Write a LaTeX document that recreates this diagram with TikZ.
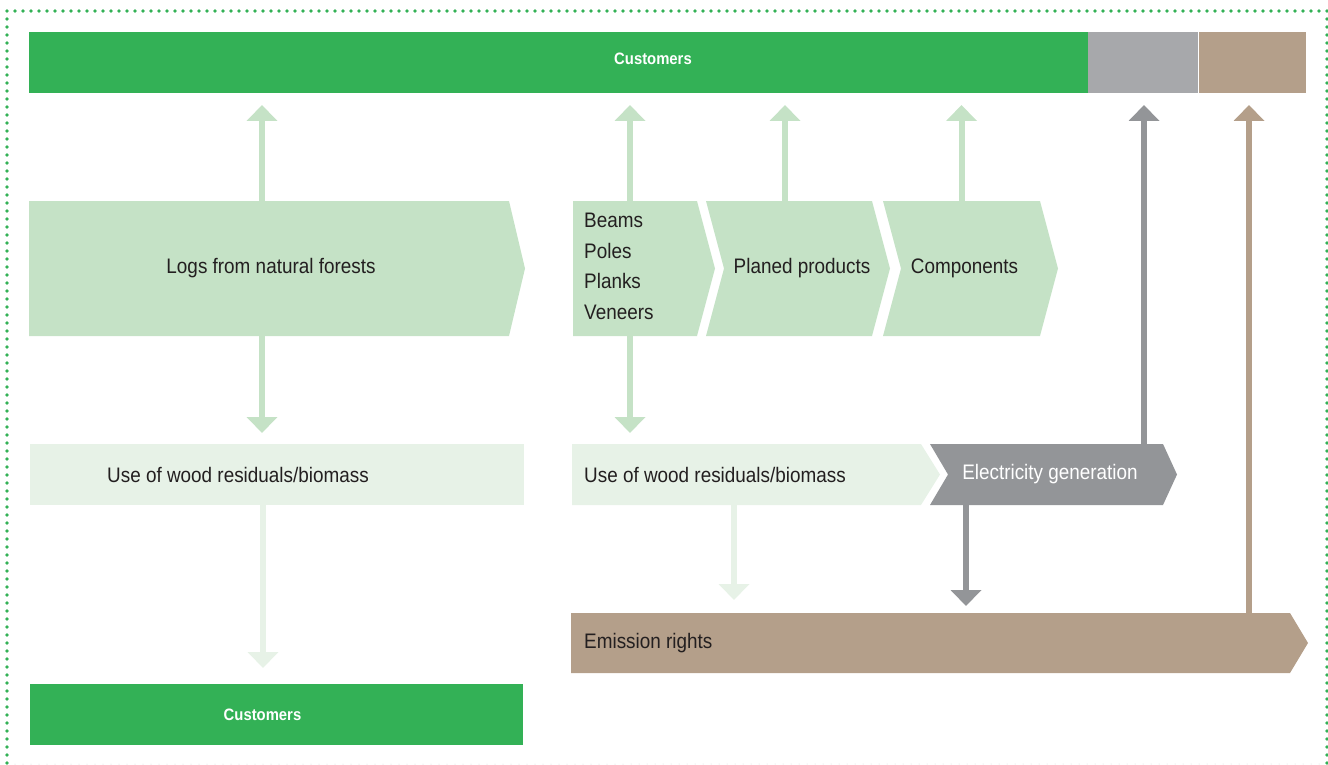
\documentclass[tikz,border=0pt]{standalone}
\usepackage{fontspec}
\setmainfont{Liberation Sans}[FakeStretch=0.9]
\usetikzlibrary{arrows.meta}

\definecolor{custgreen}{RGB}{51,177,86}
\definecolor{woodgreen}{RGB}{197,226,198}
\definecolor{palegreen}{RGB}{231,242,231}
\definecolor{powergray}{RGB}{147,149,152}
\definecolor{bargray}{RGB}{167,168,171}
\definecolor{rightstan}{RGB}{180,159,138}
\definecolor{darktext}{RGB}{35,31,32}

\begin{document}
\begin{tikzpicture}[x=1pt, y=-1pt,
	box/.style={inner sep=0pt, outer sep=0pt, anchor=north west},
	txt/.style={font=\fontsize{21}{30.5}\selectfont, text=darktext, inner sep=0pt},
	head/.style={font=\bfseries\fontsize{16.5}{20}\selectfont, text=white, inner sep=0pt},
	flow/.style={line width=6pt, -{Triangle[width=30pt,length=16pt]}}]

	\useasboundingbox (0,0) rectangle (1328,765);

	% dotted frame
	\draw[custgreen, line width=3.6pt, line cap=round, dash pattern=on 0pt off 8pt]
	(7,763) -- (7,11) -- (1327,11) -- (1327,763);
	\draw[black!15, line width=1pt, line cap=round, dash pattern=on 0pt off 8pt]
	(15,764) -- (1320,764);

	% customers on top
	\node[box, fill=custgreen, minimum width=1059pt, minimum height=61pt] (topcust) at (29,32) {};
	\node[box, fill=bargray, minimum width=110pt, minimum height=61pt] (topgray) at (1088,32) {};
	\node[box, fill=rightstan, minimum width=107pt, minimum height=61pt] (toptan) at (1199,32) {};
	\node[head] (topcust text) at (653,59) {Customers};

	% first row
	\node[box, minimum width=480pt, minimum height=135pt] (logs) at (29,201) {};
	\fill[woodgreen] (logs.north west) -- (logs.north east) -- ([xshift=16pt]logs.east)
	-- (logs.south east) -- (logs.south west) -- cycle;
	\node[txt] (logs text) at ([xshift=2pt]logs.center) {Logs from natural forests};

	\node[box, minimum width=124pt, minimum height=135pt] (beams) at (573,201) {};
	\fill[woodgreen] (beams.north west) -- (beams.north east) -- ([xshift=18pt]beams.east)
	-- (beams.south east) -- (beams.south west) -- cycle;
	\node[txt, anchor=west, align=left] (beams text) at ([xshift=11pt,yshift=2pt]beams.west)
	{Beams\\Poles\\Planks\\Veneers};

	\node[box, minimum width=166pt, minimum height=135pt] (planed) at (706,201) {};
	\fill[woodgreen] (planed.north west) -- (planed.north east) -- ([xshift=18pt]planed.east)
	-- (planed.south east) -- (planed.south west) -- ([xshift=18pt]planed.west) -- cycle;
	\node[txt] (planed text) at ([xshift=13pt]planed.center) {Planed products};

	\node[box, minimum width=157pt, minimum height=135pt] (comp) at (883,201) {};
	\fill[woodgreen] (comp.north west) -- (comp.north east) -- ([xshift=18pt]comp.east)
	-- (comp.south east) -- (comp.south west) -- ([xshift=18pt]comp.west) -- cycle;
	\node[txt] (comp text) at ([xshift=3pt]comp.center) {Components};

	% second row
	\node[box, fill=palegreen, minimum width=494pt, minimum height=61pt] (useA) at (30,444) {};
	\node[txt, anchor=west] (useA text) at ([xshift=77pt]useA.west) {Use of wood residuals/biomass};

	\node[box, minimum width=349pt, minimum height=61pt] (useB) at (572,444) {};
	\fill[palegreen] (useB.north west) -- (useB.north east) -- ([xshift=19pt]useB.east)
	-- (useB.south east) -- (useB.south west) -- cycle;
	\node[txt, anchor=west] (useB text) at ([xshift=12pt]useB.west) {Use of wood residuals/biomass};

	\node[box, minimum width=233pt, minimum height=61pt] (power) at (930,444) {};
	\fill[powergray] (power.north west) -- (power.north east) -- ([xshift=14pt]power.east)
	-- (power.south east) -- (power.south west) -- ([xshift=18pt]power.west) -- cycle;
	\node[txt, text=white] (power text) at ([xshift=3.5pt]power.center) {Electricity generation};

	% third row
	\node[box, minimum width=719pt, minimum height=60pt] (rights) at (571,613) {};
	\fill[rightstan] (rights.north west) -- (rights.north east) -- ([xshift=18pt]rights.east)
	-- (rights.south east) -- (rights.south west) -- cycle;
	\node[txt, anchor=west] (rights text) at ([xshift=13pt]rights.west) {Emission rights};

	\node[box, fill=custgreen, minimum width=493pt, minimum height=61pt] (custB) at (30,684) {};
	\node[head] (custB text) at ([xshift=-14pt]custB.center) {Customers};

	% arrows
	\coordinate (logs up) at ([xshift=-7pt]logs.north);
	\coordinate (logs down) at ([xshift=-7pt]logs.south);
	\coordinate (beams up) at ([xshift=-5pt]beams.north);
	\coordinate (beams down) at ([xshift=-5pt]beams.south);
	\coordinate (planed up) at ([xshift=-4pt]planed.north);
	\coordinate (comp up) at (comp.north);
	\coordinate (power up) at ([xshift=97.5pt]power.north);
	\coordinate (power down) at ([xshift=-80.5pt]power.south);
	\coordinate (rights up) at ([xshift=318.5pt]rights.north);
	\coordinate (useA down) at ([xshift=-14pt]useA.south);
	\coordinate (useB down) at ([xshift=-12.5pt]useB.south);

	\draw[flow, woodgreen, shorten >=12pt] (logs up) -- (logs up |- topcust.south);
	\draw[flow, woodgreen, shorten >=12pt] (beams up) -- (beams up |- topcust.south);
	\draw[flow, woodgreen, shorten >=12pt] (planed up) -- (planed up |- topcust.south);
	\draw[flow, woodgreen, shorten >=12pt] (comp up) -- (comp up |- topcust.south);
	\draw[flow, powergray, shorten >=12pt] (power up) -- (power up |- topgray.south);
	\draw[flow, rightstan, shorten >=12pt] (rights up) -- (rights up |- toptan.south);
	\draw[flow, woodgreen, shorten >=11pt] (logs down) -- (logs down |- useA.north);
	\draw[flow, woodgreen, shorten >=11pt] (beams down) -- (beams down |- useB.north);
	\draw[flow, palegreen, shorten >=16pt] (useA down) -- (useA down |- custB.north);
	\draw[flow, palegreen, shorten >=13pt] (useB down) -- (useB down |- rights.north);
	\draw[flow, powergray, shorten >=7pt] (power down) -- (power down |- rights.north);
\end{tikzpicture}
\end{document}
